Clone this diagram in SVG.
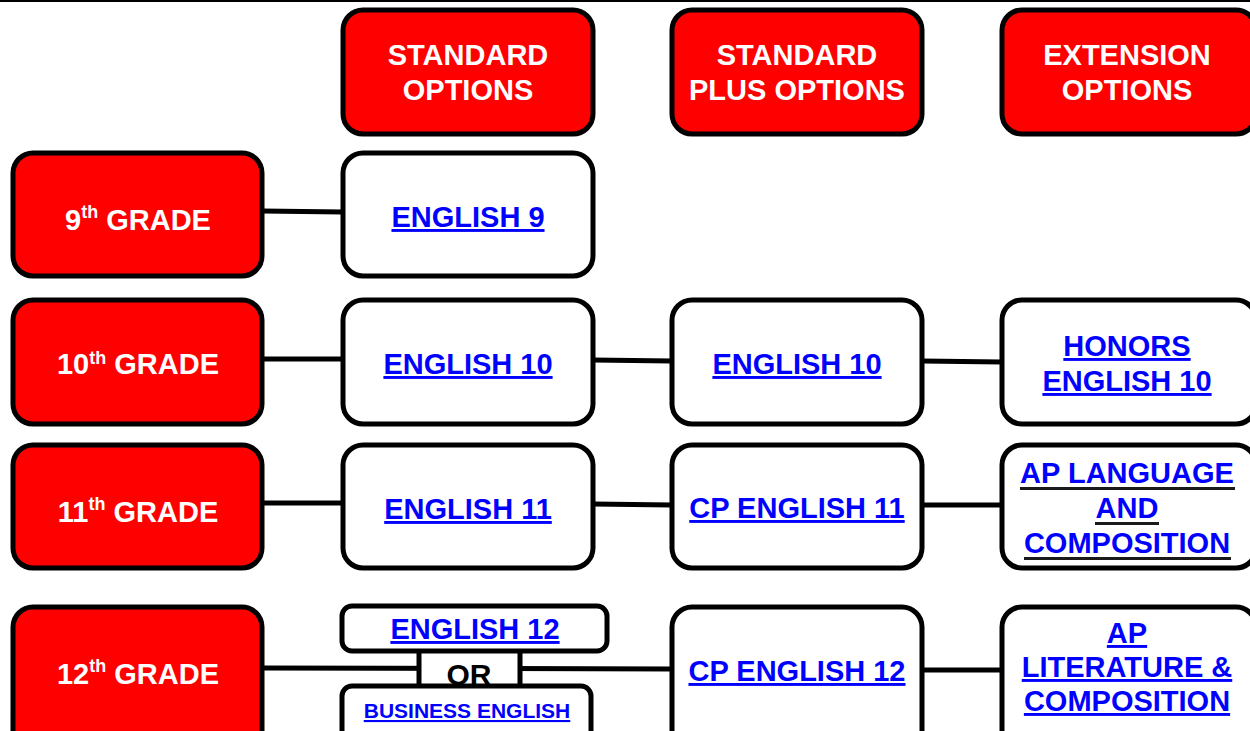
<svg xmlns="http://www.w3.org/2000/svg" width="1250" height="731" viewBox="0 0 1250 731">
<style>
.red{fill:#ff0000;stroke:#000;stroke-width:5}
.wht{fill:#fff;stroke:#000;stroke-width:5}
.hd{font-family:"Liberation Sans",Arial,sans-serif;font-weight:bold;font-size:29px;fill:#fff;text-anchor:middle}
.lk{font-family:"Liberation Sans",Arial,sans-serif;font-weight:bold;font-size:29px;fill:#0000ff;text-anchor:middle;text-decoration:underline}
.lkn{font-family:"Liberation Sans",Arial,sans-serif;font-weight:bold;font-size:29px;fill:#0000ff;text-anchor:middle}
.sup{font-size:18px}
.con{stroke:#000;stroke-width:5;fill:none}
</style>
<rect x="0" y="0" width="1250" height="731" fill="#fff"/>
<rect x="0" y="0" width="1250" height="2" fill="#000"/>
<g id="connectors">
<line class="con" x1="262" y1="211" x2="343" y2="212"/>
<line class="con" x1="262" y1="359" x2="343" y2="359"/>
<line class="con" x1="593" y1="360" x2="672" y2="361"/>
<line class="con" x1="922" y1="361" x2="1002" y2="362"/>
<line class="con" x1="262" y1="503" x2="343" y2="503"/>
<line class="con" x1="593" y1="504" x2="672" y2="505"/>
<line class="con" x1="922" y1="505" x2="1002" y2="505"/>
<line class="con" x1="262" y1="668" x2="672" y2="669"/>
<line class="con" x1="922" y1="670" x2="1002" y2="670"/>
</g>
<g id="h-standard"><rect class="red" x="343" y="10" width="250" height="124" rx="20"/><text class="hd" x="468" y="65">STANDARD</text><text class="hd" x="468" y="100">OPTIONS</text></g>
<g id="h-plus"><rect class="red" x="672" y="10" width="250" height="124" rx="20"/><text class="hd" x="797" y="65">STANDARD</text><text class="hd" x="797" y="100">PLUS OPTIONS</text></g>
<g id="h-ext"><rect class="red" x="1002" y="10" width="254" height="124" rx="20"/><text class="hd" x="1127" y="65">EXTENSION</text><text class="hd" x="1127" y="100">OPTIONS</text></g>

<g id="g9"><rect class="red" x="13" y="153" width="249" height="123" rx="20"/><text class="hd" x="138" y="230">9<tspan class="sup" dy="-12">th</tspan><tspan dy="12"> GRADE</tspan></text></g>
<g id="e9"><rect class="wht" x="343" y="153" width="250" height="123" rx="20"/><text class="lk" x="468" y="227">ENGLISH 9</text></g>

<g id="g10"><rect class="red" x="13" y="300" width="249" height="124" rx="20"/><text class="hd" x="138" y="374">10<tspan class="sup" dy="-10">th</tspan><tspan dy="10"> GRADE</tspan></text></g>
<g id="e10"><rect class="wht" x="343" y="300" width="250" height="124" rx="20"/><text class="lk" x="468" y="374">ENGLISH 10</text></g>
<g id="e10p"><rect class="wht" x="672" y="300" width="250" height="124" rx="20"/><text class="lk" x="797" y="374">ENGLISH 10</text></g>
<g id="h10"><rect class="wht" x="1002" y="300" width="254" height="124" rx="20"/><text class="lk" x="1127" y="356">HONORS</text><text class="lk" x="1127" y="391">ENGLISH 10</text></g>

<g id="g11"><rect class="red" x="13" y="445" width="249" height="123" rx="20"/><text class="hd" x="138" y="522">11<tspan class="sup" dy="-12">th</tspan><tspan dy="12"> GRADE</tspan></text></g>
<g id="e11"><rect class="wht" x="343" y="445" width="250" height="123" rx="20"/><text class="lk" x="468" y="519">ENGLISH 11</text></g>
<g id="cp11"><rect class="wht" x="672" y="445" width="250" height="123" rx="20"/><text class="lk" x="797" y="518">CP ENGLISH 11</text></g>
<g id="apl"><rect class="wht" x="1002" y="445" width="254" height="123" rx="20"/>
<text class="lkn" x="1127" y="483">AP LANGUAGE</text><text class="lkn" x="1127" y="518">AND</text><text class="lkn" x="1127" y="553">COMPOSITION</text>
<rect x="1020" y="487" width="215" height="3" fill="#1a1a1a"/><rect x="1095" y="522" width="64" height="3" fill="#1a1a1a"/><rect x="1024" y="557" width="207" height="3" fill="#1a1a1a"/></g>

<g id="g12"><rect class="red" x="13" y="607" width="249" height="150" rx="20"/><text class="hd" x="138" y="684">12<tspan class="sup" dy="-12">th</tspan><tspan dy="12"> GRADE</tspan></text></g>
<g id="or"><rect class="wht" x="419" y="645" width="101" height="45"/></g>
<g id="e12"><rect class="wht" x="342" y="606" width="265" height="45" rx="10"/><text class="lk" x="475" y="639">ENGLISH 12</text></g>
<g id="bus"><rect class="wht" x="342" y="686" width="249" height="60" rx="10"/><text class="lk" x="467" y="718" style="font-size:21px">BUSINESS ENGLISH</text></g>
<text x="469" y="685" font-family="Liberation Sans, Arial, sans-serif" font-weight="bold" font-size="30" fill="#000" text-anchor="middle">OR</text>
<g id="cp12"><rect class="wht" x="672" y="607" width="250" height="150" rx="20"/><text class="lk" x="797" y="681">CP ENGLISH 12</text></g>
<g id="aplit"><rect class="wht" x="1002" y="607" width="254" height="150" rx="20"/><text class="lk" x="1127" y="643"> AP</text><text class="lk" x="1127" y="677">LITERATURE &amp;</text><text class="lk" x="1127" y="711">COMPOSITION</text></g>
</svg>
